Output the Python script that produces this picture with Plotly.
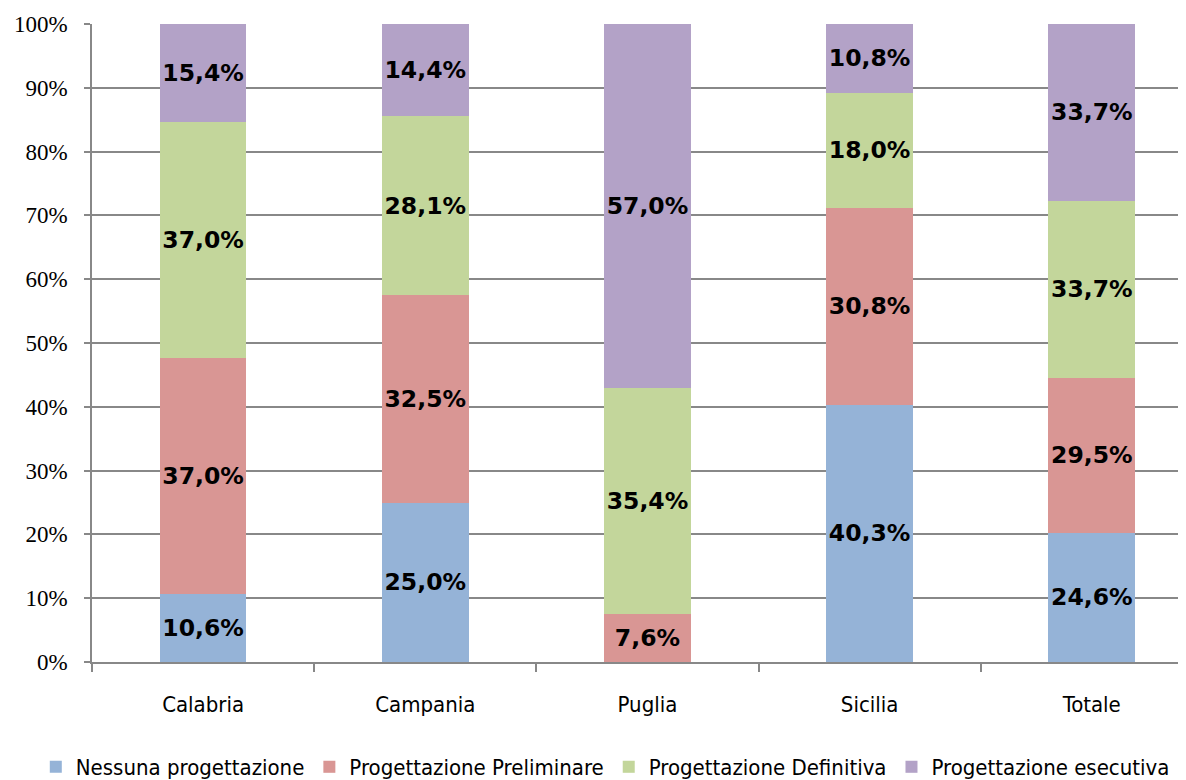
import plotly.graph_objects as go

# regions on the x axis
regions = ["Calabria", "Campania", "Puglia", "Sicilia", "Totale"]

# values as printed on the chart (%), stacked and normalised to 100%
nessuna = [10.6, 25.0, 0.0, 40.3, 24.6]
preliminare = [37.0, 32.5, 7.6, 30.8, 29.5]
definitiva = [37.0, 28.1, 35.4, 18.0, 33.7]
esecutiva = [15.4, 14.4, 57.0, 10.8, 33.7]

y_ticks = [0, 10, 20, 30, 40, 50, 60, 70, 80, 90, 100]
y_tick_labels = [f"{v}%" for v in y_ticks]

series = [
    ("Nessuna progettazione", nessuna, "#95B3D7"),
    ("Progettazione Preliminare", preliminare, "#D99694"),
    ("Progettazione Definitiva", definitiva, "#C3D69B"),
    ("Progettazione esecutiva", esecutiva, "#B3A2C7"),
]

SANS = "DejaVu Sans Condensed, DejaVu Sans"


def fmt(v):
    """Italian-style label, blank for empty segments."""
    if v == 0:
        return ""
    return f"{v:.1f}%".replace(".", ",")


fig = go.Figure()
for name, vals, color in series:
    fig.add_trace(
        go.Bar(
            name=name,
            x=regions,
            y=vals,
            marker_color=color,
            marker_line_width=0,
            text=[fmt(v) for v in vals],
            textposition="inside",
            insidetextanchor="middle",
            textangle=0,
            constraintext="none",
            textfont=dict(family="DejaVu Sans", size=23.5, color="black", weight="bold"),
        )
    )

# the page body adds an 8px offset, margins are reduced to compensate
fig.update_layout(
    barmode="stack",
    barnorm="percent",
    bargap=0.61,
    width=1186,
    height=780,
    margin=dict(l=84, r=0, t=16, b=125),
    paper_bgcolor="white",
    plot_bgcolor="white",
    showlegend=True,
    legend=dict(
        orientation="h",
        x=-0.051,
        xanchor="left",
        y=-0.164,
        yanchor="middle",
        traceorder="normal",
        font=dict(family=SANS, size=22, color="black"),
    ),
)

fig.update_xaxes(
    range=[-0.5, 4.46],
    showline=True,
    linecolor="#888888",
    linewidth=1.5,
    ticks="outside",
    tickson="boundaries",
    ticklen=8,
    tickcolor="#888888",
    tickwidth=1.5,
    ticklabelstandoff=22,
    tickfont=dict(family=SANS, size=22, color="black"),
    showgrid=False,
)

fig.update_yaxes(
    range=[0, 100],
    tickvals=y_ticks,
    ticktext=y_tick_labels,
    showline=True,
    linecolor="#888888",
    linewidth=1.5,
    ticks="outside",
    ticklen=6,
    tickcolor="#888888",
    tickwidth=1.5,
    ticklabelstandoff=12,
    tickfont=dict(family="Liberation Serif", size=23, color="black"),
    showgrid=True,
    gridcolor="#888888",
    gridwidth=1.5,
    zeroline=False,
)

fig.write_html("out.html")
